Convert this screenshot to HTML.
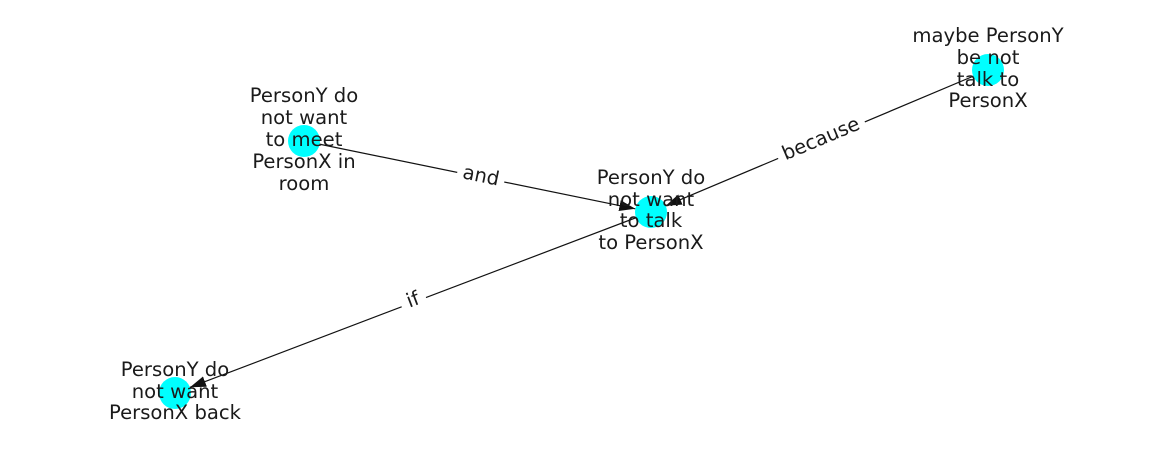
<!DOCTYPE html>
<html><head><meta charset="utf-8"><style>
html,body{margin:0;padding:0;background:#fff;}
svg{display:block;}
text{font-family:"DejaVu Sans","Liberation Sans",sans-serif;font-size:19.6px;fill:#1a1a1a;}
</style></head><body>
<svg width="1162" height="462" viewBox="0 0 1162 462" xmlns="http://www.w3.org/2000/svg">
<defs>
<marker id="ah" markerWidth="17" markerHeight="12" refX="16" refY="6" orient="auto" markerUnits="userSpaceOnUse">
<path d="M0,0.5 L16,6 L0,11.5 z" fill="#111"/>
</marker>
</defs>
<g stroke="#111" stroke-width="1.2" fill="none">
<line x1="304" y1="141" x2="635.3" y2="208.8" marker-end="url(#ah)"/>
<line x1="988" y1="70" x2="665.7" y2="205.8" marker-end="url(#ah)"/>
<line x1="651" y1="212" x2="190" y2="387.3" marker-end="url(#ah)"/>
</g>
<g transform="translate(481,176) rotate(11.6)">
<rect x="-24" y="-13" width="48" height="26" fill="#fff"/>
<text x="0" y="6" text-anchor="middle">and</text>
</g>
<g transform="translate(821,139) rotate(-22.8)">
<rect x="-47" y="-13" width="94" height="26" fill="#fff"/>
<text x="0" y="6" text-anchor="middle">because</text>
</g>
<g transform="translate(413,300) rotate(-20.8)">
<rect x="-13" y="-13" width="26" height="26" fill="#fff"/>
<text x="0" y="6" text-anchor="middle">if</text>
</g>
<g fill="#00ffff">
<circle cx="304" cy="141" r="16"/>
<circle cx="651" cy="212" r="16"/>
<circle cx="988" cy="70" r="16"/>
<circle cx="175" cy="393" r="16"/>
</g>
<g text-anchor="middle">
<text x="304" y="102">PersonY do</text>
<text x="304" y="124">not want</text>
<text x="304" y="146">to meet</text>
<text x="304" y="168">PersonX in</text>
<text x="304" y="190">room</text>

<text x="651" y="184">PersonY do</text>
<text x="651" y="206">not want</text>
<text x="651" y="227">to talk</text>
<text x="651" y="249">to PersonX</text>

<text x="988" y="42">maybe PersonY</text>
<text x="988" y="64">be not</text>
<text x="988" y="86">talk to</text>
<text x="988" y="107">PersonX</text>

<text x="175" y="376">PersonY do</text>
<text x="175" y="398">not want</text>
<text x="175" y="419">PersonX back</text>
</g>
</svg>
</body></html>
